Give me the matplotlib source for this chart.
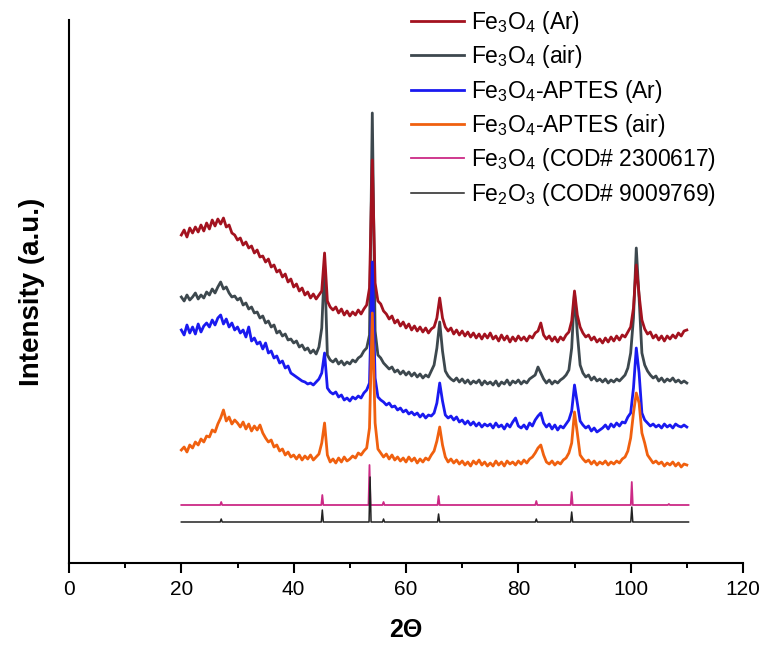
import numpy as np
import matplotlib
matplotlib.use("Agg")
import matplotlib.pyplot as plt
from matplotlib.ticker import MultipleLocator

plt.rcParams['font.family'] = ['Liberation Sans', 'DejaVu Sans']
plt.rcParams['mathtext.fontset'] = 'custom'
plt.rcParams['mathtext.rm'] = 'Liberation Sans'
plt.rcParams['mathtext.it'] = 'Liberation Sans:italic'
plt.rcParams['mathtext.bf'] = 'Liberation Sans:bold'

# ---- data (2-theta scan, 0.5 deg step) ----
two_theta = np.arange(20.0, 110.01, 0.5)

fe3o4_ar = [
    328, 333, 326, 335, 330, 336, 331, 338, 332, 340,
    334, 343, 337, 344, 339, 345, 336, 338, 330, 328,
    323, 325, 318, 321, 315, 317, 310, 313, 306, 307,
    301, 304, 296, 298, 291, 293, 286, 289, 281, 284,
    276, 279, 272, 275, 268, 271, 265, 269, 264, 268,
    272, 310, 262, 256, 253, 256, 250, 254, 248, 252,
    247, 251, 248, 253, 249, 254, 258, 275, 403, 280,
    262, 259, 252, 249, 244, 247, 240, 243, 237, 241,
    235, 239, 233, 237, 232, 236, 231, 235, 230, 234,
    236, 245, 265, 245, 236, 232, 235, 229, 233, 228,
    232, 227, 231, 226, 230, 225, 229, 224, 229, 225,
    230, 224, 227, 222, 228, 223, 227, 221, 226, 222,
    227, 223, 226, 222, 227, 225, 230, 232, 240, 228,
    224, 227, 222, 226, 221, 226, 223, 228, 231, 242,
    272, 248, 236, 230, 226, 228, 223, 226, 221, 224,
    220, 225, 221, 226, 222, 227, 223, 228, 226, 231,
    236, 255, 298, 268, 243, 234, 229, 231, 225, 228,
    223, 227, 222, 227, 224, 228, 225, 230, 227, 232,
    233]

fe3o4_air = [
    266, 262, 268, 263, 266, 270, 264, 268, 265, 271,
    268, 274, 270, 276, 281, 274, 276, 270, 266, 267,
    263, 265, 258, 260, 254, 256, 250, 251, 245, 247,
    240, 242, 236, 238, 230, 232, 227, 229, 223, 224,
    220, 222, 216, 218, 213, 215, 210, 213, 209, 216,
    235, 300, 208, 203, 201, 204, 199, 202, 198, 201,
    199, 203, 201, 205, 207, 212, 215, 228, 450, 232,
    208, 205, 200, 197, 194, 196, 191, 193, 189, 192,
    188, 191, 187, 190, 186, 189, 185, 188, 186, 192,
    198, 215, 241, 212, 192, 187, 184, 182, 185, 181,
    184, 180, 183, 179, 182, 180, 183, 178, 182, 179,
    181, 178, 182, 177, 181, 179, 183, 178, 182, 180,
    183, 179, 182, 180, 184, 186, 188, 196, 190, 184,
    180, 183, 179, 182, 180, 183, 185, 188, 193, 215,
    270, 230, 198, 190, 186, 188, 183, 186, 182, 184,
    181, 184, 180, 183, 181, 184, 182, 185, 188, 195,
    210, 245, 315, 265, 210, 198, 192, 188, 185, 187,
    182, 185, 181, 184, 182, 185, 181, 183, 180, 182,
    180]

aptes_ar = [
    233, 228, 238, 230, 236, 229, 239, 231, 237, 240,
    236, 243, 238, 245, 248, 239, 244, 236, 240, 233,
    236, 230, 233, 226, 236, 222, 225, 219, 221, 214,
    220, 210, 212, 205, 207, 200, 202, 195, 197, 190,
    188, 186, 184, 182, 181, 179, 180, 178, 181, 184,
    190, 210, 175, 171, 169, 171, 166, 168, 163, 165,
    162, 166, 164, 167, 165, 170, 173, 180, 301, 185,
    166, 163, 161, 158, 160, 156, 157, 153, 155, 151,
    153, 149, 151, 148, 150, 146, 149, 145, 148, 147,
    150, 160, 180, 162, 148, 145, 147, 143, 146, 141,
    143, 139, 142, 138, 141, 137, 140, 136, 139, 137,
    139, 135, 140, 136, 138, 134, 139, 136, 141, 145,
    137, 135, 138, 134, 140, 137, 143, 147, 150, 140,
    136, 139, 134, 138, 133, 137, 135, 139, 143, 152,
    178, 160, 142, 138, 135, 137, 132, 135, 131, 133,
    135, 138, 134, 139, 136, 140, 137, 141, 140, 146,
    150, 175, 215, 190, 150, 143, 140, 137, 139, 136,
    138, 135, 139, 136, 138, 135, 139, 137, 136, 138,
    136]

aptes_air = [
    113, 116, 111, 118, 115, 121, 118, 124, 121, 127,
    126, 133, 131, 139, 145, 153, 142, 146, 139, 143,
    140, 136, 141, 134, 139, 132, 137, 133, 138, 130,
    125, 121, 123, 116, 118, 112, 114, 108, 111, 106,
    108, 104, 108, 103, 107, 104, 108, 103, 106, 109,
    120, 140, 108, 101, 104, 100, 105, 101, 106, 102,
    104, 107, 105, 110, 108, 112, 115, 135, 250, 140,
    114, 110, 106, 109, 104, 108, 103, 106, 102, 105,
    101, 106, 102, 105, 100, 104, 101, 105, 103, 108,
    112, 122, 136, 118, 106, 101, 104, 100, 103, 99,
    102, 98, 101, 97, 102, 99, 103, 98, 101, 97,
    100, 97, 102, 98, 101, 97, 102, 99, 101, 98,
    102, 99, 103, 100, 104, 106, 110, 115, 118, 108,
    101, 99, 102, 98, 101, 99, 103, 105, 110, 120,
    151, 130, 108, 104, 101, 103, 99, 102, 98, 101,
    99, 102, 98, 101, 99, 102, 100, 104, 106, 112,
    125, 150, 170, 160, 130, 120, 108, 104, 100, 102,
    99, 101, 97, 100, 98, 101, 97, 100, 96, 99,
    98]

# reference patterns: peak positions and heights
ref_range = [20.0, 110.3]
fe3o4_ref_base = 58
fe3o4_ref_pos = [27.1, 45.1, 53.5, 56.0, 65.8, 83.2, 89.5, 100.2, 106.8]
fe3o4_ref_h = [3, 10, 40, 3, 9, 4, 13, 23, 1]
fe2o3_ref_base = 41
fe2o3_ref_pos = [27.1, 45.1, 53.6, 56.0, 65.8, 83.2, 89.5, 100.2]
fe2o3_ref_h = [3, 12, 45, 3, 8, 3, 10, 15]

labels = [r'Fe$_3$O$_4$ (Ar)', r'Fe$_3$O$_4$ (air)', r'Fe$_3$O$_4$-APTES (Ar)',
          r'Fe$_3$O$_4$-APTES (air)', r'Fe$_3$O$_4$ (COD# 2300617)',
          r'Fe$_2$O$_3$ (COD# 9009769)']
colors = ['#a3121f', '#3d484e', '#1a1af0', '#f0600f', '#cc2a86', '#222222']


def stick_line(pos, h, base, xr, hw=0.18):
    xs = [xr[0]]
    ys = [base]
    for p, hh in zip(pos, h):
        xs += [p - hw, p, p + hw]
        ys += [base, base + hh, base]
    xs.append(xr[1])
    ys.append(base)
    return xs, ys


fig = plt.figure(figsize=(7.79, 6.53), dpi=100)
ax = fig.add_axes([69 / 779, 1 - 563 / 653, (743 - 69) / 779, (563 - 20) / 653])

l2, = ax.plot(two_theta, fe3o4_air, color=colors[1], lw=2.0, zorder=2)
l1, = ax.plot(two_theta, fe3o4_ar, color=colors[0], lw=2.0, zorder=3)
l3, = ax.plot(two_theta, aptes_ar, color=colors[2], lw=2.0, zorder=4)
l4, = ax.plot(two_theta, aptes_air, color=colors[3], lw=2.0, zorder=5)
xs, ys = stick_line(fe3o4_ref_pos, fe3o4_ref_h, fe3o4_ref_base, ref_range)
l5, = ax.plot(xs, ys, color=colors[4], lw=1.3, zorder=6)
xs, ys = stick_line(fe2o3_ref_pos, fe2o3_ref_h, fe2o3_ref_base, ref_range)
l6, = ax.plot(xs, ys, color=colors[5], lw=1.1, zorder=6)

ax.set_xlim(0, 120)
ax.set_ylim(0, 543)
for s in ['top', 'right']:
    ax.spines[s].set_visible(False)
for s in ['left', 'bottom']:
    ax.spines[s].set_linewidth(1.5)
ax.set_yticks([])
ax.xaxis.set_major_locator(MultipleLocator(20))
ax.xaxis.set_minor_locator(MultipleLocator(10))
ax.tick_params(axis='x', which='major', length=7.2, width=1.5, direction='out',
               labelsize=15, pad=5)
ax.tick_params(axis='x', which='minor', length=3.5, width=1.4, direction='out')

ax.set_xlabel('2Θ', fontsize=18, fontweight='bold', labelpad=14)
ax.set_ylabel('Intensity (a.u.)', fontsize=20, fontweight='bold', labelpad=17)

fig.legend([l1, l2, l3, l4, l5, l6], labels, loc='upper left',
           bbox_to_anchor=(411 / 779, 1 - 9 / 653), frameon=False,
           fontsize=16.5, handlelength=2.3, handletextpad=0.33,
           labelspacing=0.32, borderpad=0, borderaxespad=0)

fig.savefig('out.png', dpi=100)
